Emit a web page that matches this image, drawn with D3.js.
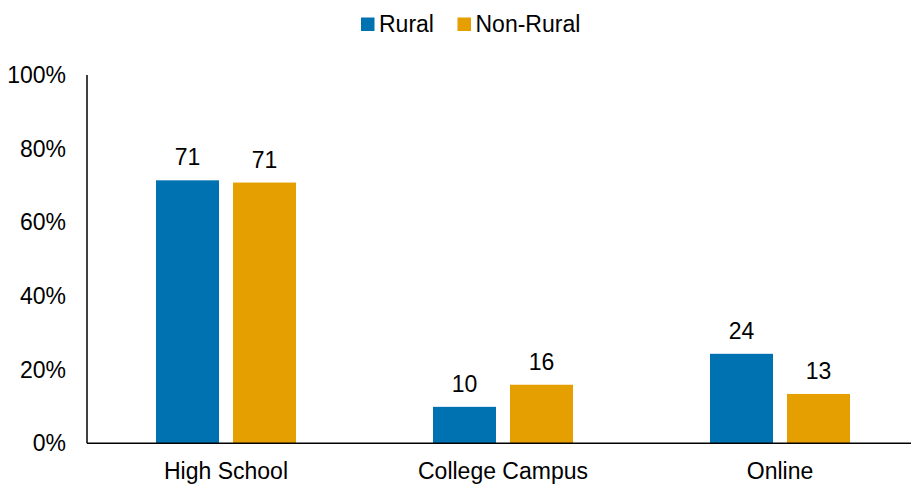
<!DOCTYPE html>
<html>
<head>
<meta charset="utf-8">
<script src="https://cdn.jsdelivr.net/npm/d3@7"></script>
<style>
  html, body { margin: 0; padding: 0; background: #fff; }
  svg { display: block; }
  text { font-family: "Liberation Sans", Arial, sans-serif; fill: #000; }
</style>
</head>
<body>
<svg id="chart" width="911" height="485"></svg>
<script>
const categories = ["High School", "College Campus", "Online"];
const seriesNames = ["Rural", "Non-Rural"];
const rural = [71.4, 9.9, 24.3];
const nonRural = [70.8, 15.9, 13.4];
const yTicks = [0, 20, 40, 60, 80, 100];
const colors = ["#0072B2", "#E69F00"];

const seriesValues = [rural, nonRural];
const svg = d3.select("#chart");
const fontSize = 23;

const x = d3.scaleBand().domain(categories).range([87.5, 918.5]).paddingInner(0).paddingOuter(0);
const y = d3.scaleLinear().domain([0, 100]).range([443.3, 75]);

// bars
categories.forEach((cat, i) => {
  const c = x(cat) + x.bandwidth() / 2;
  const xs = d3.scaleBand().domain(seriesNames).range([c - 70, c + 70]).paddingInner(2 - 140 / 77).paddingOuter(0);
  seriesNames.forEach((s, j) => {
    const v = seriesValues[j][i];
    svg.append("rect")
      .attr("x", xs(s))
      .attr("y", y(v))
      .attr("width", xs.bandwidth())
      .attr("height", y(0) - y(v))
      .attr("fill", colors[j]);
    svg.append("text")
      .attr("x", xs(s) + xs.bandwidth() / 2)
      .attr("y", y(v) - 15)
      .attr("text-anchor", "middle")
      .style("font-size", fontSize + "px")
      .text(Math.round(v));
  });
});

// y axis
const yAxis = d3.axisLeft(y).tickValues(yTicks).tickSize(0).tickPadding(21).tickFormat(d => d + "%");
const yg = svg.append("g").attr("transform", "translate(87,0)").call(yAxis);
yg.select(".domain").remove();
yg.selectAll("text").style("font-size", fontSize + "px").attr("fill", "#000")
  .attr("font-family", "Liberation Sans, Arial, sans-serif");
svg.append("line").attr("x1", 87).attr("x2", 87).attr("y1", y(100)).attr("y2", y(0))
  .attr("stroke", "#000").attr("stroke-width", 1.5);

// x axis
const xAxis = d3.axisBottom(x).tickSize(0).tickPadding(0);
const xg = svg.append("g").attr("transform", `translate(0,${y(0)})`).call(xAxis);
xg.select(".domain").remove();
xg.selectAll("text").attr("dy", null).attr("y", 479 - y(0)).style("font-size", fontSize + "px").attr("fill", "#000")
  .attr("font-family", "Liberation Sans, Arial, sans-serif");
svg.append("line").attr("x1", 87).attr("x2", 911).attr("y1", y(0)).attr("y2", y(0))
  .attr("stroke", "#000").attr("stroke-width", 1.5);

// legend
const legendX = [361, 457.5];
seriesNames.forEach((s, j) => {
  svg.append("rect").attr("x", legendX[j]).attr("y", 17.5).attr("width", 13.5).attr("height", 13.5).attr("fill", colors[j]);
  svg.append("text").attr("x", legendX[j] + 18).attr("y", 31.5).style("font-size", fontSize + "px").text(s);
});
</script>
</body>
</html>
